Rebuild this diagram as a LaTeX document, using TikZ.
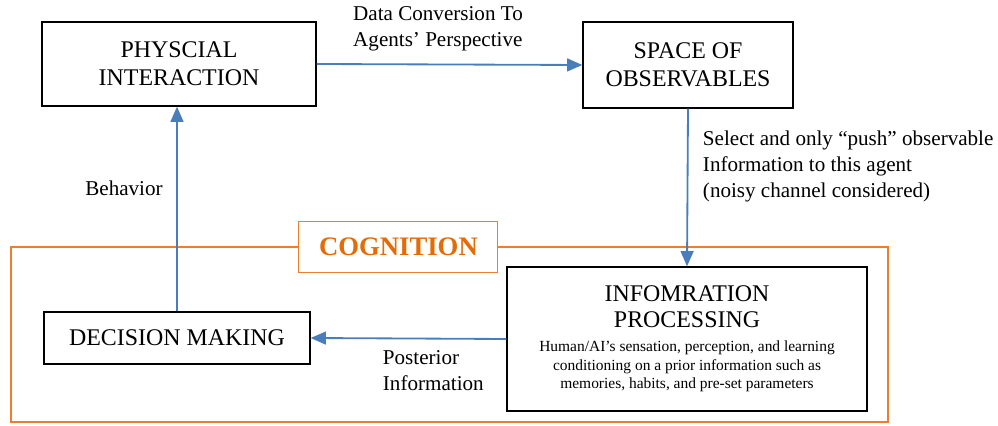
\documentclass[tikz,border=0pt]{standalone}
\usepackage{fontspec}
\setmainfont{Liberation Serif}
\usetikzlibrary{arrows.meta}
\definecolor{flowblue}{HTML}{4A7EBB}
\definecolor{cogorange}{HTML}{ED7D31}
\definecolor{cogtext}{HTML}{E36C09}
\begin{document}
\begin{tikzpicture}[
    block/.style={rectangle, draw=black, line width=0.9pt, align=center, font=\fontsize{17}{20}\selectfont},
    note/.style={align=left, font=\fontsize{15}{18.5}\selectfont},
    flow/.style={-{Triangle[length=0.38cm, width=0.32cm]}, draw=flowblue, line width=1.3pt}
]
    \useasboundingbox (0,0) rectangle (24.95,10.625);

    % Cognition frame
    \draw[cogorange, line width=1.7pt] (0.275,0.075) rectangle (22.2,4.45);
    \node[rectangle, draw=cogorange, fill=white, line width=0.7pt, minimum width=4.975cm, minimum height=1.275cm,
          text=cogtext, font=\fontsize{19}{22}\selectfont\bfseries] (cognition) at (9.96,4.46) {COGNITION};

    % Blocks
    \node[block, minimum width=6.85cm, minimum height=2.1cm] (physical) at (4.475,9.025) {PHYSCIAL\\INTERACTION};
    \node[block, minimum width=5.25cm, minimum height=2.15cm] (space) at (17.2,9.0) {SPACE OF\\OBSERVABLES};
    \node[block, minimum width=6.65cm, minimum height=1.3cm] (decision) at (4.425,2.175) {DECISION MAKING};
    \node[block, minimum width=9.0cm, minimum height=3.6cm, font=\fontsize{11}{13.2}\selectfont] (info) at (17.175,2.15)
        {{\fontsize{17}{19}\selectfont INFOMRATION}\\[0.185cm]
         {\fontsize{17}{19}\selectfont PROCESSING}\\[0.135cm]
         Human/AI’s sensation, perception, and learning\\
         conditioning on a prior information such as\\
         memories, habits, and pre-set parameters};

    % Labels
    \node[note] (convlabel) at (10.95,9.9) {Data Conversion To\\Agents’ Perspective};
    \node[note, anchor=west] (selectlabel) at (17.45,6.475) {Select and only “push” observable\\Information to this agent\\(noisy channel considered)};
    \node[note] (behavlabel) at (3.1,5.925) {Behavior};
    \node[note, anchor=west] (postlabel) at (9.45,1.35) {Posterior\\Information};

    % Arrows
    \draw[flow] (physical.east) -- (space.west);
    \draw[flow] (space.south) -- (info.north);
    \draw[flow] (info.west) -- (decision.east);
    \draw[flow] (decision.north) -- (decision.north |- physical.south);
\end{tikzpicture}
\end{document}
